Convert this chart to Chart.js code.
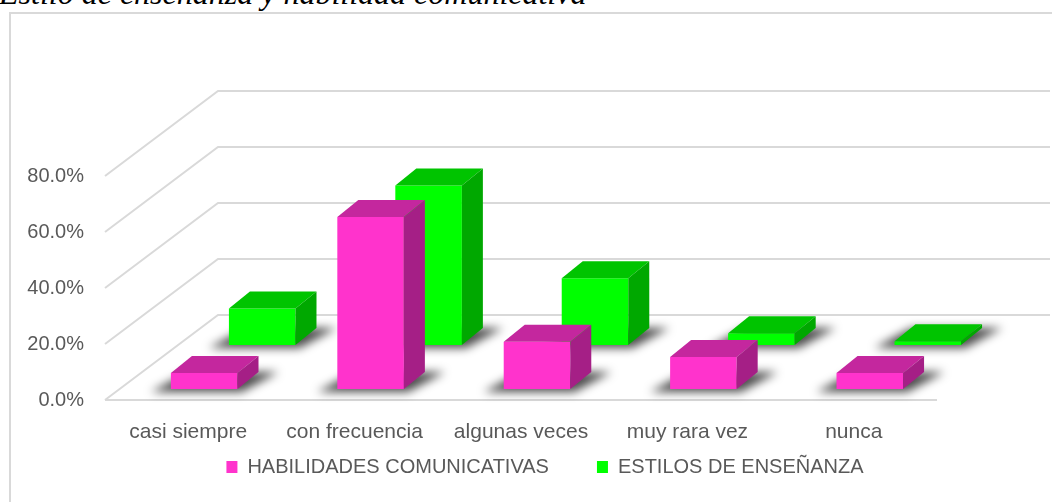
<!DOCTYPE html>
<html><head><meta charset="utf-8">
<script src="https://cdn.jsdelivr.net/npm/chart.js@4/dist/chart.umd.min.js"></script>
<style>
html,body{margin:0;padding:0;background:#fff;overflow:hidden;}
#wrap{position:relative;width:1052px;height:502px;overflow:hidden;}
#title{position:absolute;left:-1px;top:-23px;font:italic 32px "Liberation Serif";color:#000;white-space:nowrap;line-height:32px;}
#frame{position:absolute;left:9px;top:12px;width:1100px;height:600px;border:2px solid #d9d9d9;box-sizing:border-box;}
canvas{position:absolute;left:0;top:0;}
</style></head><body>
<div id="wrap"><div id="title">Estilo de enseñanza y habilidad comunicativa</div><div id="frame"></div><canvas id="c" width="1052" height="502"></canvas></div>
<script>
const categories = ['casi siempre', 'con frecuencia', 'algunas veces', 'muy rara vez', 'nunca'];
const habilidades = [5.7, 61.4, 16.9, 11.4, 5.7];
const estilos = [13.0, 57.0, 23.8, 4.2, 1.3];
const seriesNames = ['HABILIDADES COMUNICATIVAS', 'ESTILOS DE ENSEÑANZA'];
const yTicks = [0, 20, 40, 60, 80];

const FRONT = ['#FF33CC', '#00FF00'];
const TOP = ['#C4279E', '#00C400'];
const SIDE = ['#A51F86', '#00A800'];
const ROW = [{dx: 16, dy: -11}, {dx: 74, dy: -55}];
const BOX = {dx: 21, dy: -17};
const FLOOR = {dx: 113, dy: -85};
const GRID = '#d9d9d9';
const TXT = '#595959';
const FONT = 'Liberation Sans';

function poly(ctx, pts, fill) {
  ctx.beginPath();
  ctx.moveTo(pts[0][0], pts[0][1]);
  for (let i = 1; i < pts.length; i++) ctx.lineTo(pts[i][0], pts[i][1]);
  ctx.closePath();
  ctx.fillStyle = fill;
  ctx.fill();
}

const threeD = {
  id: 'threeD',
  afterLayout(chart) {
    const lg = chart.legend;
    lg.left = 38; lg.right = 1052; lg.width = lg.right - lg.left;
    lg.top = 409; lg.bottom = 502; lg.height = lg.bottom - lg.top;
  },
  beforeDatasetsDraw(chart) {
    const ctx = chart.ctx;
    const {left, right} = chart.chartArea;
    const ys = chart.scales.y;
    ctx.save();
    ctx.strokeStyle = GRID;
    ctx.lineWidth = 2;
    ys.ticks.forEach(t => {
      const py = ys.getPixelForValue(t.value);
      ctx.beginPath();
      ctx.moveTo(left, py);
      ctx.lineTo(left + FLOOR.dx, py + FLOOR.dy);
      ctx.lineTo(right + FLOOR.dx, py + FLOOR.dy);
      ctx.stroke();
    });
    const p0 = ys.getPixelForValue(0);
    ctx.beginPath();
    ctx.moveTo(left, p0);
    ctx.lineTo(right, p0);
    ctx.stroke();
    // shadows on the floor
    ctx.filter = 'blur(5px)';
    chart.data.datasets.forEach((ds, di) => {
      const meta = chart.getDatasetMeta(di);
      const o = ROW[di];
      meta.data.forEach(el => {
        const x0 = el.x - el.width / 2 + o.dx, x1 = el.x + el.width / 2 + o.dx;
        const b = el.base + o.dy;
        poly(ctx, [[x0 - 20, b + 3], [x1 + 4, b + 3], [x1 + BOX.dx + 20, b + BOX.dy], [x0 + BOX.dx - 4, b + BOX.dy]], 'rgba(0,0,0,0.7)');
      });
    });
    ctx.restore();
  },
  beforeDatasetDraw(chart, args) {
    const o = ROW[args.index];
    chart.ctx.save();
    chart.ctx.translate(o.dx, o.dy);
  },
  afterDatasetDraw(chart, args) {
    const ctx = chart.ctx;
    const di = args.index;
    args.meta.data.forEach(el => {
      const x0 = el.x - el.width / 2, x1 = el.x + el.width / 2;
      const y = el.y, b = el.base;
      poly(ctx, [[x0, y], [x1, y], [x1 + BOX.dx, y + BOX.dy], [x0 + BOX.dx, y + BOX.dy]], TOP[di]);
      poly(ctx, [[x1, y], [x1 + BOX.dx, y + BOX.dy], [x1 + BOX.dx, b + BOX.dy], [x1, b]], SIDE[di]);
    });
    ctx.restore();
  }
};

new Chart(document.getElementById('c'), {
  type: 'bar',
  data: {
    labels: categories,
    datasets: [
      {label: seriesNames[0], data: habilidades, backgroundColor: FRONT[0]},
      {label: seriesNames[1], data: estilos, backgroundColor: FRONT[1]}
    ]
  },
  options: {
    responsive: false,
    maintainAspectRatio: false,
    animation: false,
    events: [],
    datasets: {bar: {grouped: false, barPercentage: 0.4, categoryPercentage: 1, clip: false, borderWidth: 0}},
    layout: {padding: {top: 176, right: 115, bottom: 12, left: 0}},
    scales: {
      x: {
        grid: {display: false, drawTicks: false},
        border: {display: false},
        ticks: {color: TXT, font: {family: FONT, size: 21}, padding: 20, maxRotation: 0, autoSkip: false},
        afterFit: s => { s.height = 50; }
      },
      y: {
        min: 0, max: 80,
        grid: {display: false, drawTicks: false},
        border: {display: false},
        afterBuildTicks: s => { s.ticks = yTicks.map(v => ({value: v})); },
        ticks: {color: TXT, font: {family: FONT, size: 20}, padding: 21, callback: v => v.toFixed(1) + '%'},
        afterFit: s => { s.width = 105; }
      }
    },
    plugins: {
      tooltip: {enabled: false},
      legend: {
        position: 'bottom',
        maxHeight: 40,
        labels: {color: TXT, font: {family: FONT, size: 20}, boxWidth: 11, boxHeight: 12, padding: 48}
      }
    }
  },
  plugins: [threeD]
});
</script>
</body></html>
